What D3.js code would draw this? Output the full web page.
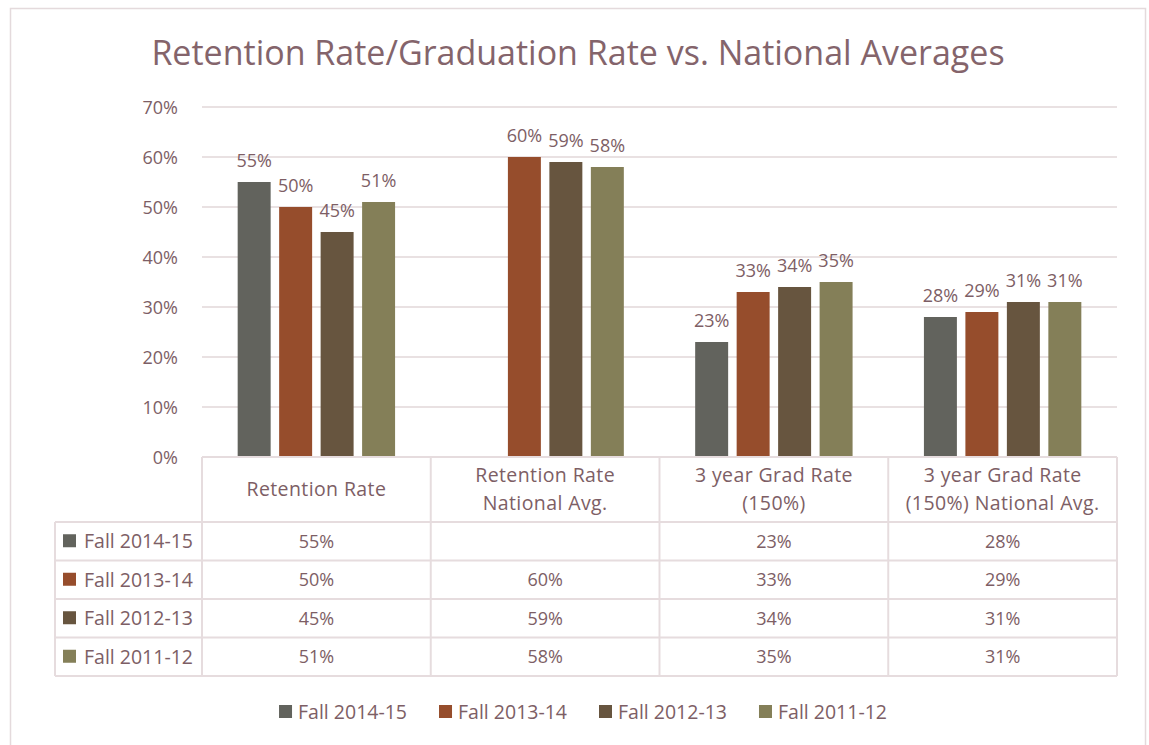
<!DOCTYPE html>
<html>
<head>
<meta charset="utf-8">
<script src="https://cdn.jsdelivr.net/npm/d3@7"></script>
<style>
  body { margin: 0; background: #fff; }
  svg text { font-family: "Open Sans", sans-serif; fill: #7d5e65; }
</style>
</head>
<body>
<div id="chart-area"></div>
<script>

// chart data
let categories = ["Retention Rate", "Retention Rate\nNational Avg.", "3 year Grad Rate\n(150%)", "3 year Grad Rate\n(150%) National Avg."];
let seriesNames = ["Fall 2014-15", "Fall 2013-14", "Fall 2012-13", "Fall 2011-12"];
let fall201415 = [55, null, 23, 28];
let fall201314 = [50, 60, 33, 29];
let fall201213 = [45, 59, 34, 31];
let fall201112 = [51, 58, 35, 31];
let yTicks = [0, 10, 20, 30, 40, 50, 60, 70];
let colors = ["#62635d", "#964d2c", "#67553f", "#847f58"];

let seriesValues = [fall201415, fall201314, fall201213, fall201112];

let W = 1149, H = 745;
let plot = {left: 202, right: 1117, top: 107, bottom: 457};
let tableBottom = 676, headerBottom = 522, tableLeft = 55;
let wordSize = "19.5px", numSize = "18px";

let svg = d3.select("#chart-area").append("svg")
	.attr("width", W)
	.attr("height", H);

// outer frame
svg.append("rect")
	.attr("x", 10.5).attr("y", 8.5)
	.attr("width", 1135).attr("height", 760)
	.attr("fill", "#fff")
	.attr("stroke", "#e4dadc")
	.attr("stroke-width", 1.5);

// title
svg.append("text")
	.attr("x", 578).attr("y", 65)
	.attr("text-anchor", "middle")
	.style("font-size", "34px")
	.style("fill", "#84646b")
	.text("Retention Rate/Graduation Rate vs. National Averages");

// scales
let xScale = d3.scaleBand()
	.domain(categories)
	.range([plot.left, plot.right]);

let xInner = d3.scaleBand()
	.domain(seriesNames)
	.range([0, xScale.bandwidth()])
	.paddingInner(0.205)
	.paddingOuter(0.86);

let yScale = d3.scaleLinear()
	.domain([0, 70])
	.range([plot.bottom, plot.top]);

// gridlines
svg.append("g")
	.selectAll("line")
	.data(yTicks)
	.enter()
	.append("line")
	.attr("x1", plot.left).attr("x2", plot.right)
	.attr("y1", d => yScale(d)).attr("y2", d => yScale(d))
	.attr("stroke", "#e2d7d9")
	.attr("stroke-width", 1.5);

// y axis labels
let yAxis = d3.axisLeft(yScale)
	.tickValues(yTicks)
	.tickFormat(d => d + "%")
	.tickSize(0)
	.tickPadding(0);

let yAxisGroup = svg.append("g")
	.attr("transform", "translate(178,0)")
	.call(yAxis);
yAxisGroup.select(".domain").remove();
yAxisGroup.selectAll("text")
	.style("font-size", numSize)
	.attr("font-family", null)
	.attr("dy", "0.35em");

// bars
let groups = svg.selectAll(".series")
	.data(seriesNames)
	.enter()
	.append("g")
	.attr("class", "series")
	.attr("fill", (d, i) => colors[i]);

groups.each(function(name, si) {
	let pts = categories.map((c, ci) => ({cat: c, v: seriesValues[si][ci]})).filter(d => d.v !== null);
	let g = d3.select(this);
	g.selectAll("rect")
		.data(pts)
		.enter()
		.append("rect")
		.attr("x", d => xScale(d.cat) + xInner(name))
		.attr("y", d => yScale(d.v))
		.attr("width", xInner.bandwidth())
		.attr("height", d => yScale(0) - yScale(d.v));

	g.selectAll("text")
		.data(pts)
		.enter()
		.append("text")
		.attr("x", d => xScale(d.cat) + xInner(name) + xInner.bandwidth() / 2)
		.attr("y", d => yScale(d.v) - 15)
		.attr("text-anchor", "middle")
		.style("font-size", numSize)
		.text(d => d.v + "%");
});

// data table
let rowScale = d3.scaleBand()
	.domain(seriesNames)
	.range([headerBottom, tableBottom]);

let tableLines = svg.append("g")
	.attr("stroke", "#e6dcde")
	.attr("stroke-width", 2);

// horizontal lines
tableLines.append("line")
	.attr("x1", plot.left).attr("x2", plot.right)
	.attr("y1", plot.bottom).attr("y2", plot.bottom);
tableLines.selectAll(".hline")
	.data(seriesNames.concat(["end"]))
	.enter()
	.append("line")
	.attr("class", "hline")
	.attr("x1", tableLeft).attr("x2", plot.right)
	.attr("y1", d => d === "end" ? tableBottom : rowScale(d))
	.attr("y2", d => d === "end" ? tableBottom : rowScale(d));

// vertical lines
tableLines.append("line")
	.attr("x1", tableLeft).attr("x2", tableLeft)
	.attr("y1", headerBottom).attr("y2", tableBottom);
tableLines.selectAll(".vline")
	.data(categories.concat(["end"]))
	.enter()
	.append("line")
	.attr("class", "vline")
	.attr("x1", d => d === "end" ? plot.right : xScale(d))
	.attr("x2", d => d === "end" ? plot.right : xScale(d))
	.attr("y1", plot.bottom).attr("y2", tableBottom);

// header text
let headerMid = (plot.bottom + headerBottom) / 2;
svg.selectAll(".header")
	.data(categories)
	.enter()
	.append("text")
	.attr("class", "header")
	.attr("text-anchor", "middle")
	.style("font-size", wordSize)
	.style("letter-spacing", "0.4px")
	.each(function(c) {
		let lines = c.split("\n");
		let t = d3.select(this);
		lines.forEach((ln, i) => {
			t.append("tspan")
				.attr("x", xScale(c) + xScale.bandwidth() / 2)
				.attr("y", headerMid + (i - (lines.length - 1) / 2) * 28)
				.attr("dy", "0.35em")
				.text(ln);
		});
	});

// row labels with legend keys
let rows = svg.selectAll(".row")
	.data(seriesNames)
	.enter()
	.append("g")
	.attr("class", "row")
	.attr("transform", d => "translate(0," + (rowScale(d) + rowScale.bandwidth() / 2) + ")");

rows.append("rect")
	.attr("x", 63).attr("y", -7)
	.attr("width", 13).attr("height", 13)
	.attr("fill", (d, i) => colors[i]);

rows.append("text")
	.attr("x", 84)
	.attr("dy", "0.35em")
	.style("font-size", wordSize)
	.text(d => d);

// cell values
rows.each(function(name, si) {
	d3.select(this).selectAll(".cell")
		.data(categories)
		.enter()
		.append("text")
		.attr("class", "cell")
		.attr("x", c => xScale(c) + xScale.bandwidth() / 2)
		.attr("dy", "0.35em")
		.attr("text-anchor", "middle")
		.style("font-size", numSize)
		.text((c, ci) => seriesValues[si][ci] === null ? "" : seriesValues[si][ci] + "%");
});

// bottom legend
let legend = svg.append("g").attr("transform", "translate(0,712)");
let items = legend.selectAll(".item")
	.data(seriesNames)
	.enter()
	.append("g")
	.attr("class", "item");
items.append("rect")
	.attr("y", -7)
	.attr("width", 13).attr("height", 13)
	.attr("fill", (d, i) => colors[i]);
items.append("text")
	.attr("x", 19)
	.attr("dy", "0.35em")
	.style("font-size", wordSize)
	.text(d => d);

let offs = 0;
let positions = [];
items.each(function() {
	let w = 19 + d3.select(this).select("text").node().getComputedTextLength();
	positions.push(offs);
	offs += w + 32;
});
let legendWidth = offs - 32;
let legendStart = 583 - legendWidth / 2;
items.attr("transform", (d, i) => "translate(" + (legendStart + positions[i]) + ",0)");

</script>
</body>
</html>
